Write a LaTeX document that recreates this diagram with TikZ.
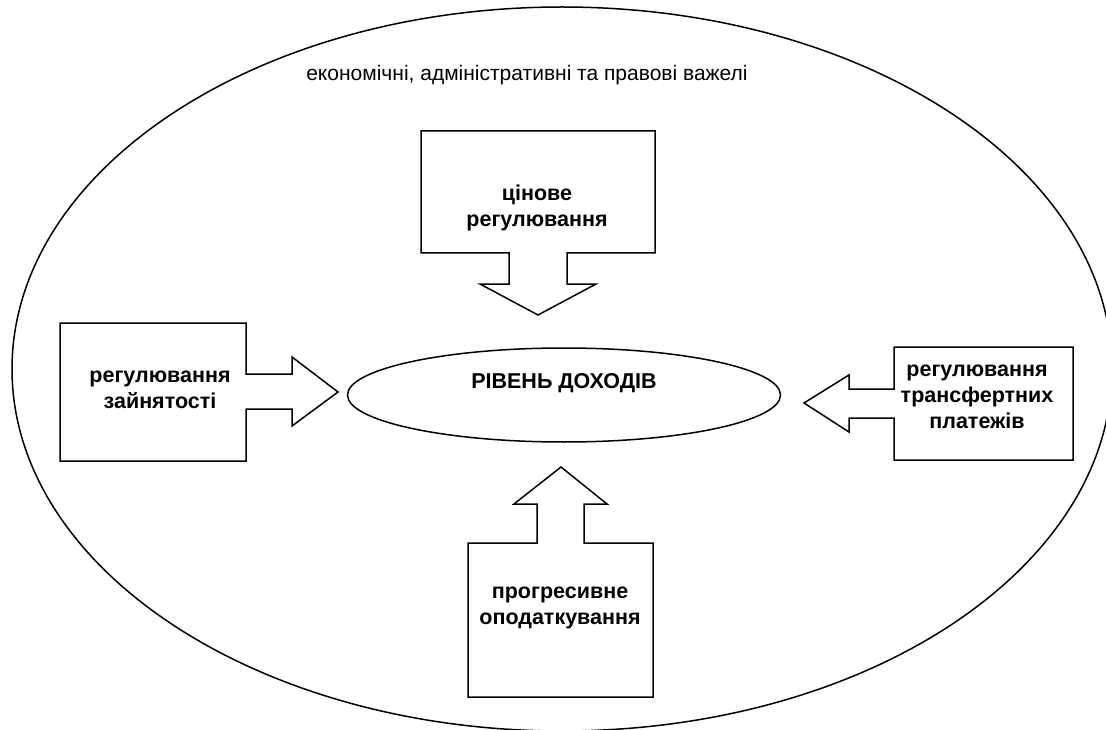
\documentclass[tikz,border=0pt]{standalone}
\usepackage{fontspec}
\setmainfont{Liberation Sans}
\usetikzlibrary{shapes.geometric}

\begin{document}
\begin{tikzpicture}[x=1pt,y=-1pt]
\tikzset{callout/.style = {draw, line width=1.5pt, line join=miter}}
\tikzset{boxtext/.style = {align=center, font=\bfseries\fontsize{21.5}{26}\selectfont}}
\tikzset{oval/.style = {shape=ellipse, draw, line width=1.5pt, inner sep=0pt}}
\useasboundingbox (0,0) rectangle (1106,730);
\clip (0,0) rectangle (1106,730);
% outer field of levers
\node[oval, minimum width=1100, minimum height=724](field) at (562,369) {};
\node[font=\fontsize{21}{24}\selectfont](levers) at (527,75) {економічні, адміністративні та правові важелі};
% centre
\node[oval, minimum width=433, minimum height=94](level) at (564,395) {};
\node[boxtext](leveltxt) at (564,383) {РІВЕНЬ ДОХОДІВ};
% top: price regulation
\draw[callout] (421,131) -- (655,131) -- (655,253) -- (567,253) -- (567,284) -- (596,284)
  -- (538,315) -- (480,284) -- (509,284) -- (509,253) -- (421,253) -- cycle;
\node[boxtext](price) at (537,208) {цінове\\регулювання};
% left: employment
\draw[callout] (60,323) -- (246,323) -- (246,374) -- (292,374) -- (292,357) -- (338,392)
  -- (292,426) -- (292,409) -- (246,409) -- (246,461) -- (60,461) -- cycle;
\node[boxtext](employ) at (160,390) {регулювання\\зайнятості};
% right: transfer payments
\draw[callout] (894,347) -- (1073,347) -- (1073,460) -- (894,460) -- (894,418) -- (849,418)
  -- (849,432) -- (804,403) -- (849,375) -- (849,389) -- (894,389) -- cycle;
\node[boxtext](transfer) at (977,397) {регулювання\\трансфертних\\платежів};
% bottom: progressive taxation
\draw[callout] (468,697) -- (468,543) -- (537,543) -- (537,504) -- (514,504) -- (561,467)
  -- (607,504) -- (584,504) -- (584,543) -- (653,543) -- (653,697) -- cycle;
\node[boxtext](taxation) at (560,608) {прогресивне\\оподаткування};
\end{tikzpicture}
\end{document}
